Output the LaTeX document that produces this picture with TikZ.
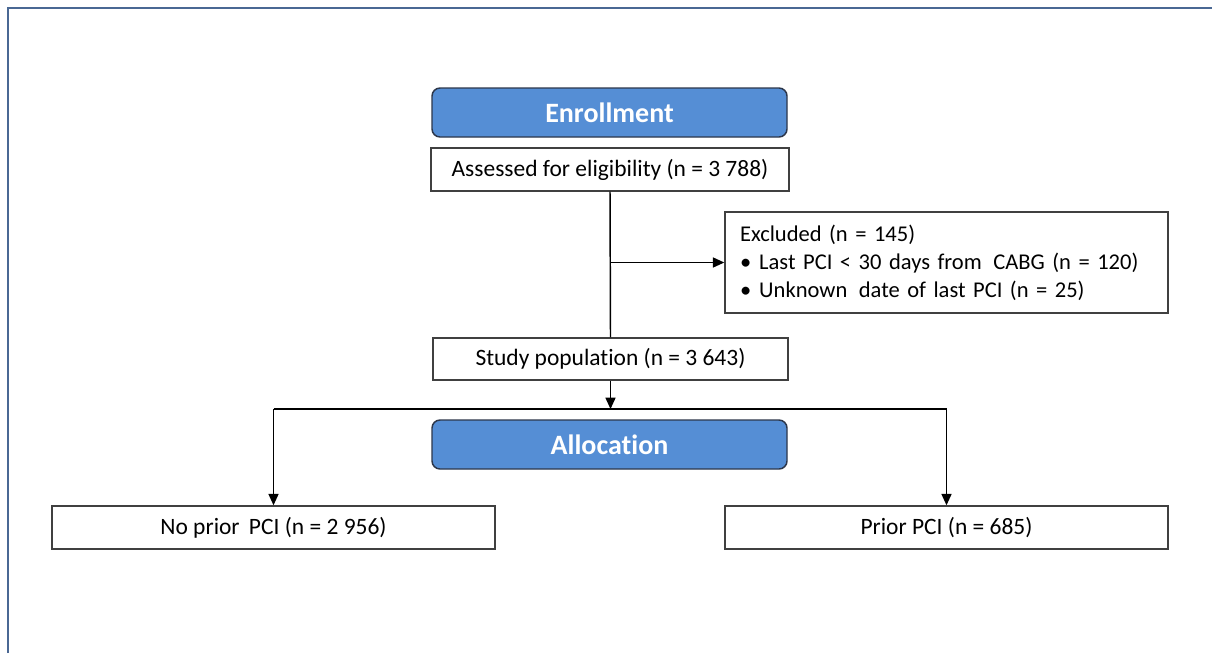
\documentclass[tikz,border=0pt]{standalone}
\usepackage{fontspec}
\setmainfont{Carlito}[Ligatures=NoCommon]
\usetikzlibrary{arrows.meta}
\definecolor{hdrblue}{RGB}{85,142,213}
\definecolor{hdredge}{RGB}{45,55,75}
\definecolor{frameblue}{RGB}{74,104,148}
\definecolor{boxedge}{RGB}{64,64,64}
\begin{document}
\begin{tikzpicture}[x=0.75pt,y=-0.75pt,
  header/.style={draw=hdredge, line width=1.1pt, fill=hdrblue, rounded corners=6pt,
    minimum width=266.25pt, minimum height=36.75pt, inner sep=0pt,
    text=white, font=\fontsize{21}{25}\selectfont\bfseries},
  plainbox/.style={draw=boxedge, line width=1.1pt, fill=white, inner sep=0pt,
    font=\fontsize{17.6}{21}\selectfont},
  conn/.style={line width=1.1pt, draw=black},
  arr/.style={conn, -{Triangle[length=8.5pt,width=7.5pt]}}
]
\useasboundingbox (0,0) rectangle (1212,653);
\fill[white] (0,0) rectangle (1212,653);
\draw[frameblue, line width=1.6pt] (8,653) -- (8,8) -- (1212,8);

\node[header] (enr) at (609.5,112.5) {Enrollment};
\node[plainbox, minimum width=268.5pt, minimum height=32.25pt] (ass) at (610,169.5) {Assessed for eligibility (n = 3 788)};
\node[plainbox, minimum width=332.25pt, minimum height=75.75pt, align=left,
  text width=309.75pt, inner xsep=11.25pt, font=\fontsize{16.9}{21}\selectfont] (exc) at (946.5,262.5)
  {Excluded (n = 145)\\
   \textbullet\hspace{6pt}Last PCI < 30 days from\hspace{3pt} CABG (n = 120)\\
   \textbullet\hspace{6pt}Unknown\hspace{3pt} date of last PCI (n = 25)};
\node[plainbox, minimum width=266.25pt, minimum height=31.5pt] (stu) at (610.5,359) {Study population (n = 3 643)};
\node[header] (all) at (609.5,444.5) {Allocation};
\node[plainbox, minimum width=332.25pt, minimum height=32.25pt] (nop) at (273.5,527.5) {No prior\hspace{3pt} PCI (n = 2 956)};
\node[plainbox, minimum width=332.25pt, minimum height=32.25pt] (pri) at (946.5,527.5) {Prior PCI (n = 685)};

\coordinate (split) at (ass.south |- exc.west);
\coordinate (junc) at (stu.south |- 0,409);
\coordinate (jl) at (nop.north |- junc);
\coordinate (jr) at (pri.north |- junc);

\draw[conn] (ass.south) -- (stu.north);
\draw[arr] (split) -- (exc.west);
\draw[arr] (stu.south) -- (junc);
\draw[conn] (jl) -- (jr);
\draw[arr] (jl) -- (nop.north);
\draw[arr] (jr) -- (pri.north);
\end{tikzpicture}
\end{document}
